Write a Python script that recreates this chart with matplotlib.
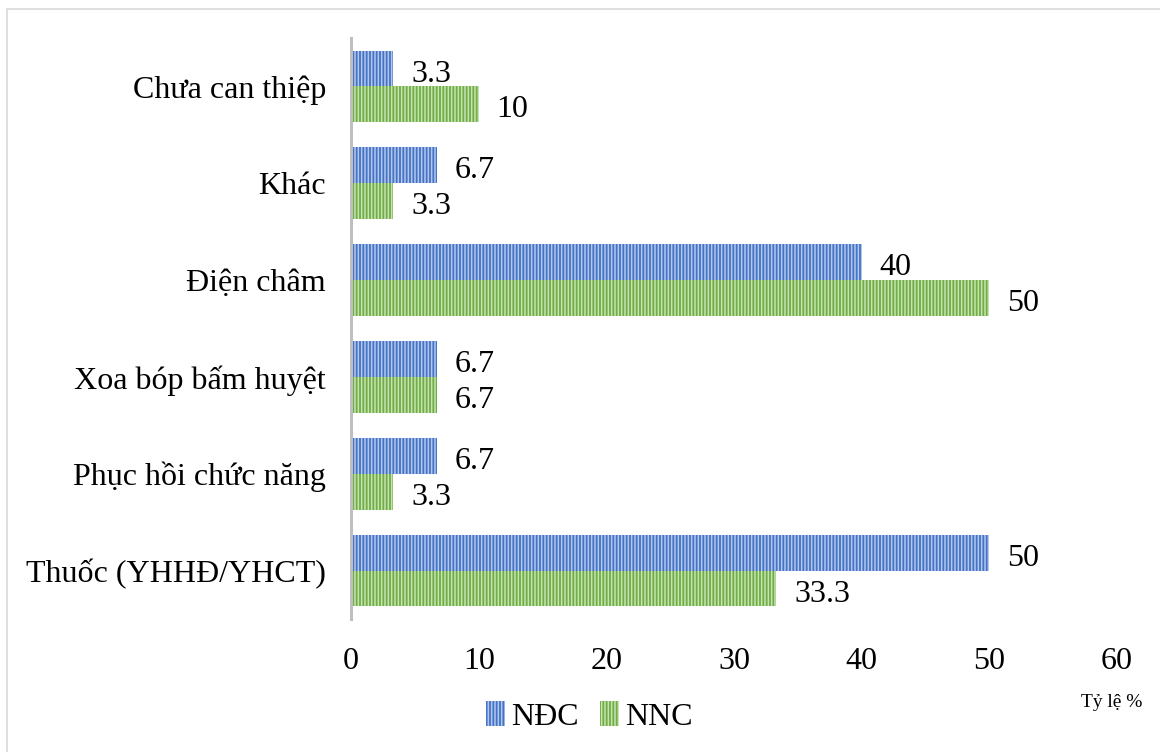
import matplotlib.pyplot as plt
from matplotlib.patches import Rectangle
import numpy as np

plt.rcParams['font.family'] = ['Liberation Serif', 'DejaVu Serif']
plt.rcParams['hatch.linewidth'] = 1.1

categories = ["Thuốc (YHHĐ/YHCT)", "Phục hồi chức năng", "Xoa bóp bấm huyệt",
              "Điện châm", "Khác", "Chưa can thiệp"]
ndc = [50, 6.7, 6.7, 40, 6.7, 3.3]
nnc = [33.3, 3.3, 6.7, 50, 3.3, 10]
x_ticks = [0, 10, 20, 30, 40, 50, 60]

fig = plt.figure(figsize=(11.6, 7.52), dpi=100)
ax = fig.add_axes([0.3026, 0.1769, 0.6604, 0.7726])

y = np.arange(len(categories))
h = 0.37
b1 = ax.barh(y + h / 2, ndc, height=h, color="#4472C4", edgecolor="#B4C8EE",
             hatch="|||||", linewidth=0, label="NĐC")
b2 = ax.barh(y - h / 2, nnc, height=h, color="#70AD47", edgecolor="#C6E3B0",
             hatch="|||||", linewidth=0, label="NNC")

for bars, vals in [(b1, ndc), (b2, nnc)]:
    anns = ax.bar_label(bars, labels=[f"{v:g}" for v in vals], padding=13, fontsize=23)
    for a in anns:
        a.xyann = (13, -4)

ax.set_ylim(-0.5, len(categories) - 0.5)
ax.set_xlim(0, 60)
ax.set_xticks(x_ticks)
ax.set_yticks(y)
ax.set_yticklabels(categories)
ax.tick_params(axis='both', length=0, labelsize=23)
ax.tick_params(axis='x', pad=20)
ax.tick_params(axis='y', pad=18)

for s in ['top', 'right', 'bottom']:
    ax.spines[s].set_visible(False)
ax.spines['left'].set_color('#BFBFBF')
ax.spines['left'].set_linewidth(2.2)

fig.legend(handles=[b1, b2], loc='center', bbox_to_anchor=(0.508, 0.047), ncol=2,
           frameon=False, fontsize=23, handlelength=0.6, handleheight=0.8,
           handletextpad=0.2, columnspacing=0.65)

fig.text(0.932, 0.066, "Tỷ lệ %", fontsize=14, ha='left', va='center')

fig.patches.append(Rectangle((0.006, -0.1), 1.1, 1.088, transform=fig.transFigure,
                             fill=False, edgecolor='#D9D9D9', linewidth=1.2))

plt.savefig('out.png')
